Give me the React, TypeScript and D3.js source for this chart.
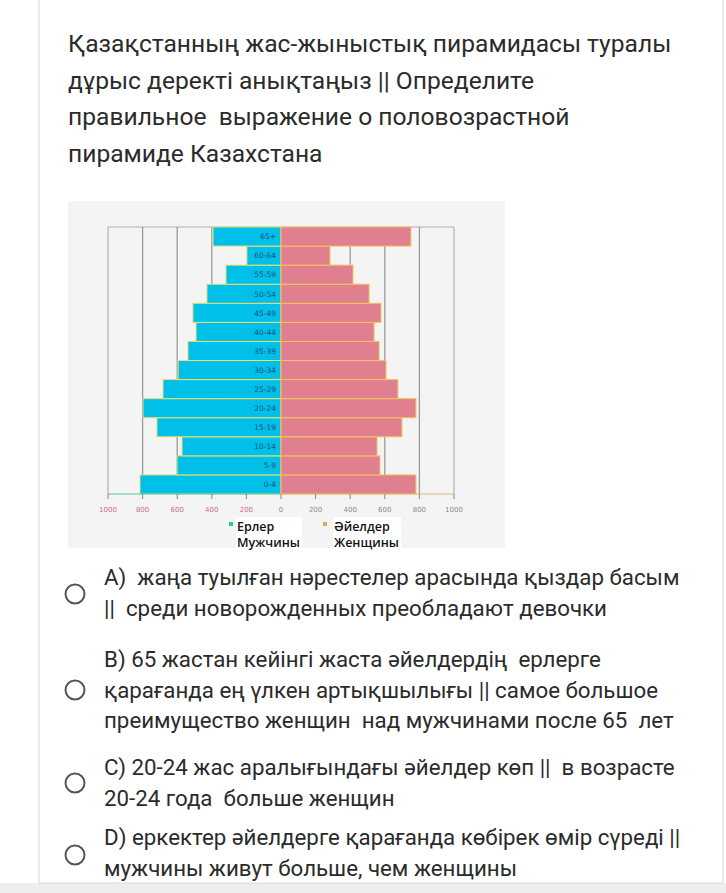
import React from "react";
import * as d3 from "d3";

const ageGroups = ["0-4", "5-9", "10-14", "15-19", "20-24", "25-29", "30-34", "35-39", "40-44", "45-49", "50-54", "55-59", "60-64", "65+"];
const maleValues = [815, 601, 572, 717, 798, 682, 595, 538, 491, 509, 428, 318, 197, 393];
const femaleValues = [780, 572, 555, 699, 780, 676, 607, 567, 538, 578, 509, 416, 283, 751];
const tickValues = [-1000, -800, -600, -400, -200, 0, 200, 400, 600, 800, 1000];
const gridValues = [-800, -600, -400, 400, 600, 800];

const titleLines = [
  "Қазақстанның жас-жыныстық пирамидасы туралы",
  "дұрыс деректі анықтаңыз || Определите",
  "правильное  выражение о половозрастной",
  "пирамиде Казахстана",
];

const options = [
  { lines: ["А)  жаңа туылған нәрестелер арасында қыздар басым", "||  среди новорожденных преобладают девочки"], circleY: 594, baseY: 585 },
  { lines: ["В) 65 жастан кейінгі жаста әйелдердің  ерлерге", "қарағанда ең үлкен артықшылығы || самое большое", "преимущество женщин  над мужчинами после 65  лет"], circleY: 690, baseY: 667 },
  { lines: ["С) 20-24 жас аралығындағы әйелдер көп ||  в возрасте", "20-24 года  больше женщин"], circleY: 783, baseY: 775 },
  { lines: ["D) еркектер әйелдерге қарағанда көбірек өмір сүреді ||", "мужчины живут больше, чем женщины"], circleY: 855, baseY: 845 },
];

export default function App() {
  const W = 726, H = 893;
  const x = d3.scaleLinear().domain([-1000, 1000]).range([108, 454]);
  const y = d3.scaleBand<string>().domain([...ageGroups].reverse()).range([227, 494]).padding(0);
  const bh = y.bandwidth();
  const textFont = "Roboto, sans-serif";
  const pre: React.CSSProperties = { whiteSpace: "pre" };

  return (
    <svg width={W} height={H} style={{ position: "absolute", left: 0, top: 0, background: "#fff" }}>
      <rect x={0} y={0} width={W} height={H} fill="#ffffff" />
      {/* card borders */}
      <line x1={39} y1={0} x2={39} y2={883} stroke="#e4e4e4" strokeWidth={1.5} />
      <line x1={723} y1={0} x2={723} y2={883} stroke="#e4e4e4" strokeWidth={1.5} />
      <rect x={0} y={883} width={W} height={10} fill="#eeeeee" />
      <line x1={39} y1={883} x2={723} y2={883} stroke="#dcdcdc" strokeWidth={1} />

      {/* title */}
      {titleLines.map((t, i) => (
        <text key={i} x={68} y={52 + i * 36.5} fontFamily={textFont} fontSize={24.6} fill="#2b2b2b" style={pre}>{t}</text>
      ))}

      {/* chart background */}
      <rect x={68} y={201} width={437} height={347} fill="#f4f4f4" />

      {/* grid */}
      <line x1={x(-1000)} y1={227} x2={x(1000)} y2={227} stroke="#b0b0b0" strokeWidth={1.2} />
      {[-1000, 1000].map((v) => (
        <line key={v} x1={x(v)} y1={227} x2={x(v)} y2={494} stroke="#b0b0b0" strokeWidth={1.2} />
      ))}
      {gridValues.map((v) => (
        <line key={v} x1={x(v)} y1={227} x2={x(v)} y2={494} stroke="#9a9a9a" strokeWidth={1.3} />
      ))}

      {/* bars */}
      {ageGroups.map((a, i) => (
        <g key={a}>
          <rect x={x(-maleValues[i])} y={y(a)!} width={x(0) - x(-maleValues[i])} height={bh} fill="#00bfe9" stroke="#e8e070" strokeWidth={1} />
          <rect x={x(0)} y={y(a)!} width={x(femaleValues[i]) - x(0)} height={bh} fill="#e07f8f" stroke="#f2c45a" strokeWidth={1} />
          <text x={x(0) - 5} y={y(a)! + bh / 2 + 2.8} textAnchor="end" fontFamily="DejaVu Sans, sans-serif" fontSize={7.5} fill="#1f4f78">{a}</text>
        </g>
      ))}

      {/* axis */}
      <line x1={x(-1000)} y1={494} x2={x(0)} y2={494} stroke="#5cc4a0" strokeWidth={1.2} />
      <line x1={x(0)} y1={494} x2={x(1000)} y2={494} stroke="#e0b878" strokeWidth={1.2} />
      {tickValues.map((v) => (
        <g key={v}>
          <line x1={x(v)} y1={494} x2={x(v)} y2={499} stroke="#888" strokeWidth={1} />
          <text x={x(v)} y={512} textAnchor="middle" fontFamily="DejaVu Sans, sans-serif" fontSize={7} fill={v < 0 ? "#c9707e" : "#8a8a8a"}>{Math.abs(v)}</text>
        </g>
      ))}

      {/* legend */}
      <rect x={236} y={517} width={66} height={37} fill="#ffffff" />
      <rect x={333} y={517} width={68} height={37} fill="#ffffff" />
      <rect x={229} y={522} width={4} height={4} fill="#2fc4ae" />
      <rect x={323} y={522} width={4} height={4} fill="#e0a85a" />
      <text x={237} y={531} fontFamily="Open Sans, sans-serif" fontWeight={600} fontSize={12.5} fill="#111">Ерлер</text>
      <text x={237} y={547} fontFamily="Open Sans, sans-serif" fontWeight={600} fontSize={12.5} fill="#111">Мужчины</text>
      <text x={334} y={531} fontFamily="Open Sans, sans-serif" fontWeight={600} fontSize={12.5} fill="#111">Әйелдер</text>
      <text x={334} y={547} fontFamily="Open Sans, sans-serif" fontWeight={600} fontSize={12.5} fill="#111">Женщины</text>

      {/* options */}
      {options.map((o, i) => (
        <g key={i}>
          <circle cx={75} cy={o.circleY} r={9.5} fill="none" stroke="#555" strokeWidth={2} />
          {o.lines.map((l, j) => (
            <text key={j} x={104} y={o.baseY + j * 30.5} fontFamily={textFont} fontSize={22.3} fill="#2b2b2b" style={pre}>{l}</text>
          ))}
        </g>
      ))}
    </svg>
  );
}
